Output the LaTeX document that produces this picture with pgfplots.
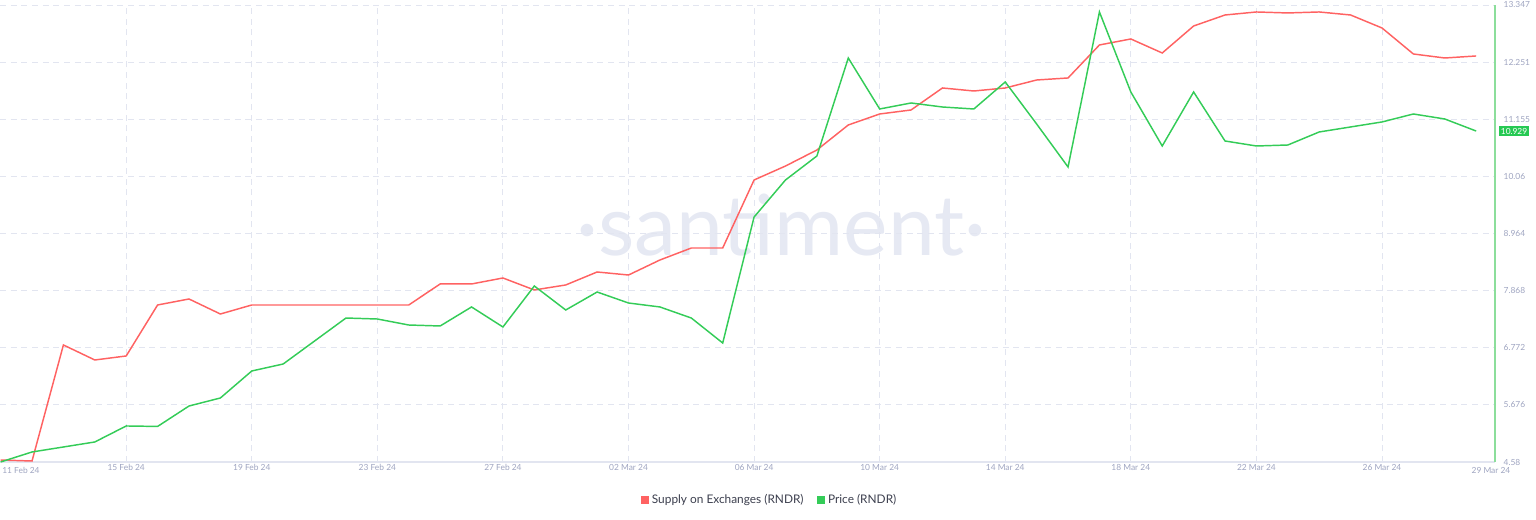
\documentclass[border=0pt]{standalone}
\usepackage{pgfplots}
\pgfplotsset{compat=1.18}
\usepackage{fontspec}
\setmainfont{Lato}
\newfontfamily\wmfont{Lato}
\definecolor{supplyred}{RGB}{255,98,98}
\definecolor{pricegreen}{RGB}{52,204,88}
\definecolor{axisgreen}{RGB}{140,222,155}
\definecolor{boxgreen}{RGB}{38,201,83}
\definecolor{ticktext}{RGB}{158,164,192}
\definecolor{gridc}{RGB}{226,229,240}
\definecolor{legtext}{RGB}{60,63,78}
\definecolor{wmc}{RGB}{230,233,243}

\pgfplotstableread{
d supply price
0 4.618 4.580
1 4.599 4.772
2 6.825 4.868
3 6.537 4.964
4 6.614 5.271
5 7.592 5.262
6 7.707 5.654
7 7.419 5.808
8 7.592 6.326
9 7.592 6.460
10 7.592 6.901
11 7.592 7.342
12 7.592 7.323
13 7.592 7.208
14 7.995 7.189
15 7.995 7.554
16 8.110 7.170
17 7.880 7.956
18 7.976 7.496
19 8.225 7.841
20 8.167 7.630
21 8.455 7.554
22 8.685 7.342
23 8.685 6.863
24 9.990 9.280
25 10.258 9.990
26 10.565 10.450
27 11.045 12.330
28 11.256 11.352
29 11.333 11.467
30 11.755 11.390
31 11.697 11.352
32 11.755 11.870
33 11.908 11.064
34 11.947 10.239
35 12.580 13.213
36 12.695 11.678
37 12.426 10.642
38 12.944 11.678
39 13.155 10.738
40 13.213 10.642
41 13.194 10.661
42 13.213 10.911
43 13.155 11.007
44 12.906 11.103
45 12.407 11.256
46 12.330 11.160
47 12.369 10.929
}\datatable

\begin{document}
\begin{tikzpicture}
\useasboundingbox (0,0) rectangle (1152pt,390pt);
% watermark
\node[text=wmc, font=\wmfont\fontsize{63pt}{68pt}\selectfont, inner sep=0pt] at (586pt,221.25pt) {\textperiodcentered santiment\textperiodcentered};
\begin{axis}[
  at={(0pt,43.5pt)}, anchor=south west,
  scale only axis,
  width=1121.25pt, height=342.75pt,
  xmin=-0.02, xmax=47.6,
  ymin=4.58, ymax=13.347,
  axis x line*=bottom,
  axis y line*=right,
  x axis line style={draw=gridc, line width=0.9pt},
  y axis line style={draw=axisgreen, line width=1.3pt},
  major tick length=0pt,
  xtick={4,8,...,44},
  xticklabels={15 Feb 24,19 Feb 24,23 Feb 24,27 Feb 24,02 Mar 24,06 Mar 24,10 Mar 24,14 Mar 24,18 Mar 24,22 Mar 24,26 Mar 24},
  ytick={4.58,5.676,6.772,7.868,8.964,10.06,11.155,12.251,13.347},
  yticklabels={4.58,5.676,6.772,7.868,8.964,10.06,11.155,12.251,13.347},
  /pgf/number format/assume math mode=true,
  tick label style={text=ticktext, font=\fontsize{6.3pt}{7pt}\selectfont},
  xticklabel style={yshift=1.5pt},
  yticklabel style={xshift=3pt},
  xmajorgrids, ymajorgrids,
  major grid style={draw=gridc, line width=0.7pt, dash pattern=on 4.5pt off 3.5pt},
  clip=false,
  legend style={at={(0.515,-0.083)}, anchor=center, draw=none, fill=none,
    legend columns=2, font=\fontsize{8.9pt}{10pt}\selectfont, text=legtext,
    /tikz/every even column/.append style={column sep=8pt}},
  legend image code/.code={\fill[#1] (0pt,-2.6pt) rectangle (5.2pt,2.6pt);},
]
\addplot[color=supplyred, line width=1.1pt, mark=none] table[x=d, y=supply] {\datatable};
\addlegendentry{Supply on Exchanges (RNDR)}
\addplot[color=pricegreen, line width=1.1pt, mark=none] table[x=d, y=price] {\datatable};
\addlegendentry{Price (RNDR)}
\node[text=ticktext, font=\fontsize{6.3pt}{7pt}\selectfont, anchor=center] at (rel axis cs:0.014,0) [yshift=-6.3pt] {11 Feb 24};
\node[text=ticktext, font=\fontsize{6.3pt}{7pt}\selectfont, anchor=center] at (rel axis cs:0.9973,0) [yshift=-6.3pt] {29 Mar 24};
\node[fill=boxgreen, text=white, font=\fontsize{6.3pt}{7pt}\selectfont, inner xsep=1.2pt, inner ysep=1.5pt, anchor=west] at (axis cs:47.6,10.929) [xshift=3pt] {10.929};
\end{axis}
\end{tikzpicture}
\end{document}
